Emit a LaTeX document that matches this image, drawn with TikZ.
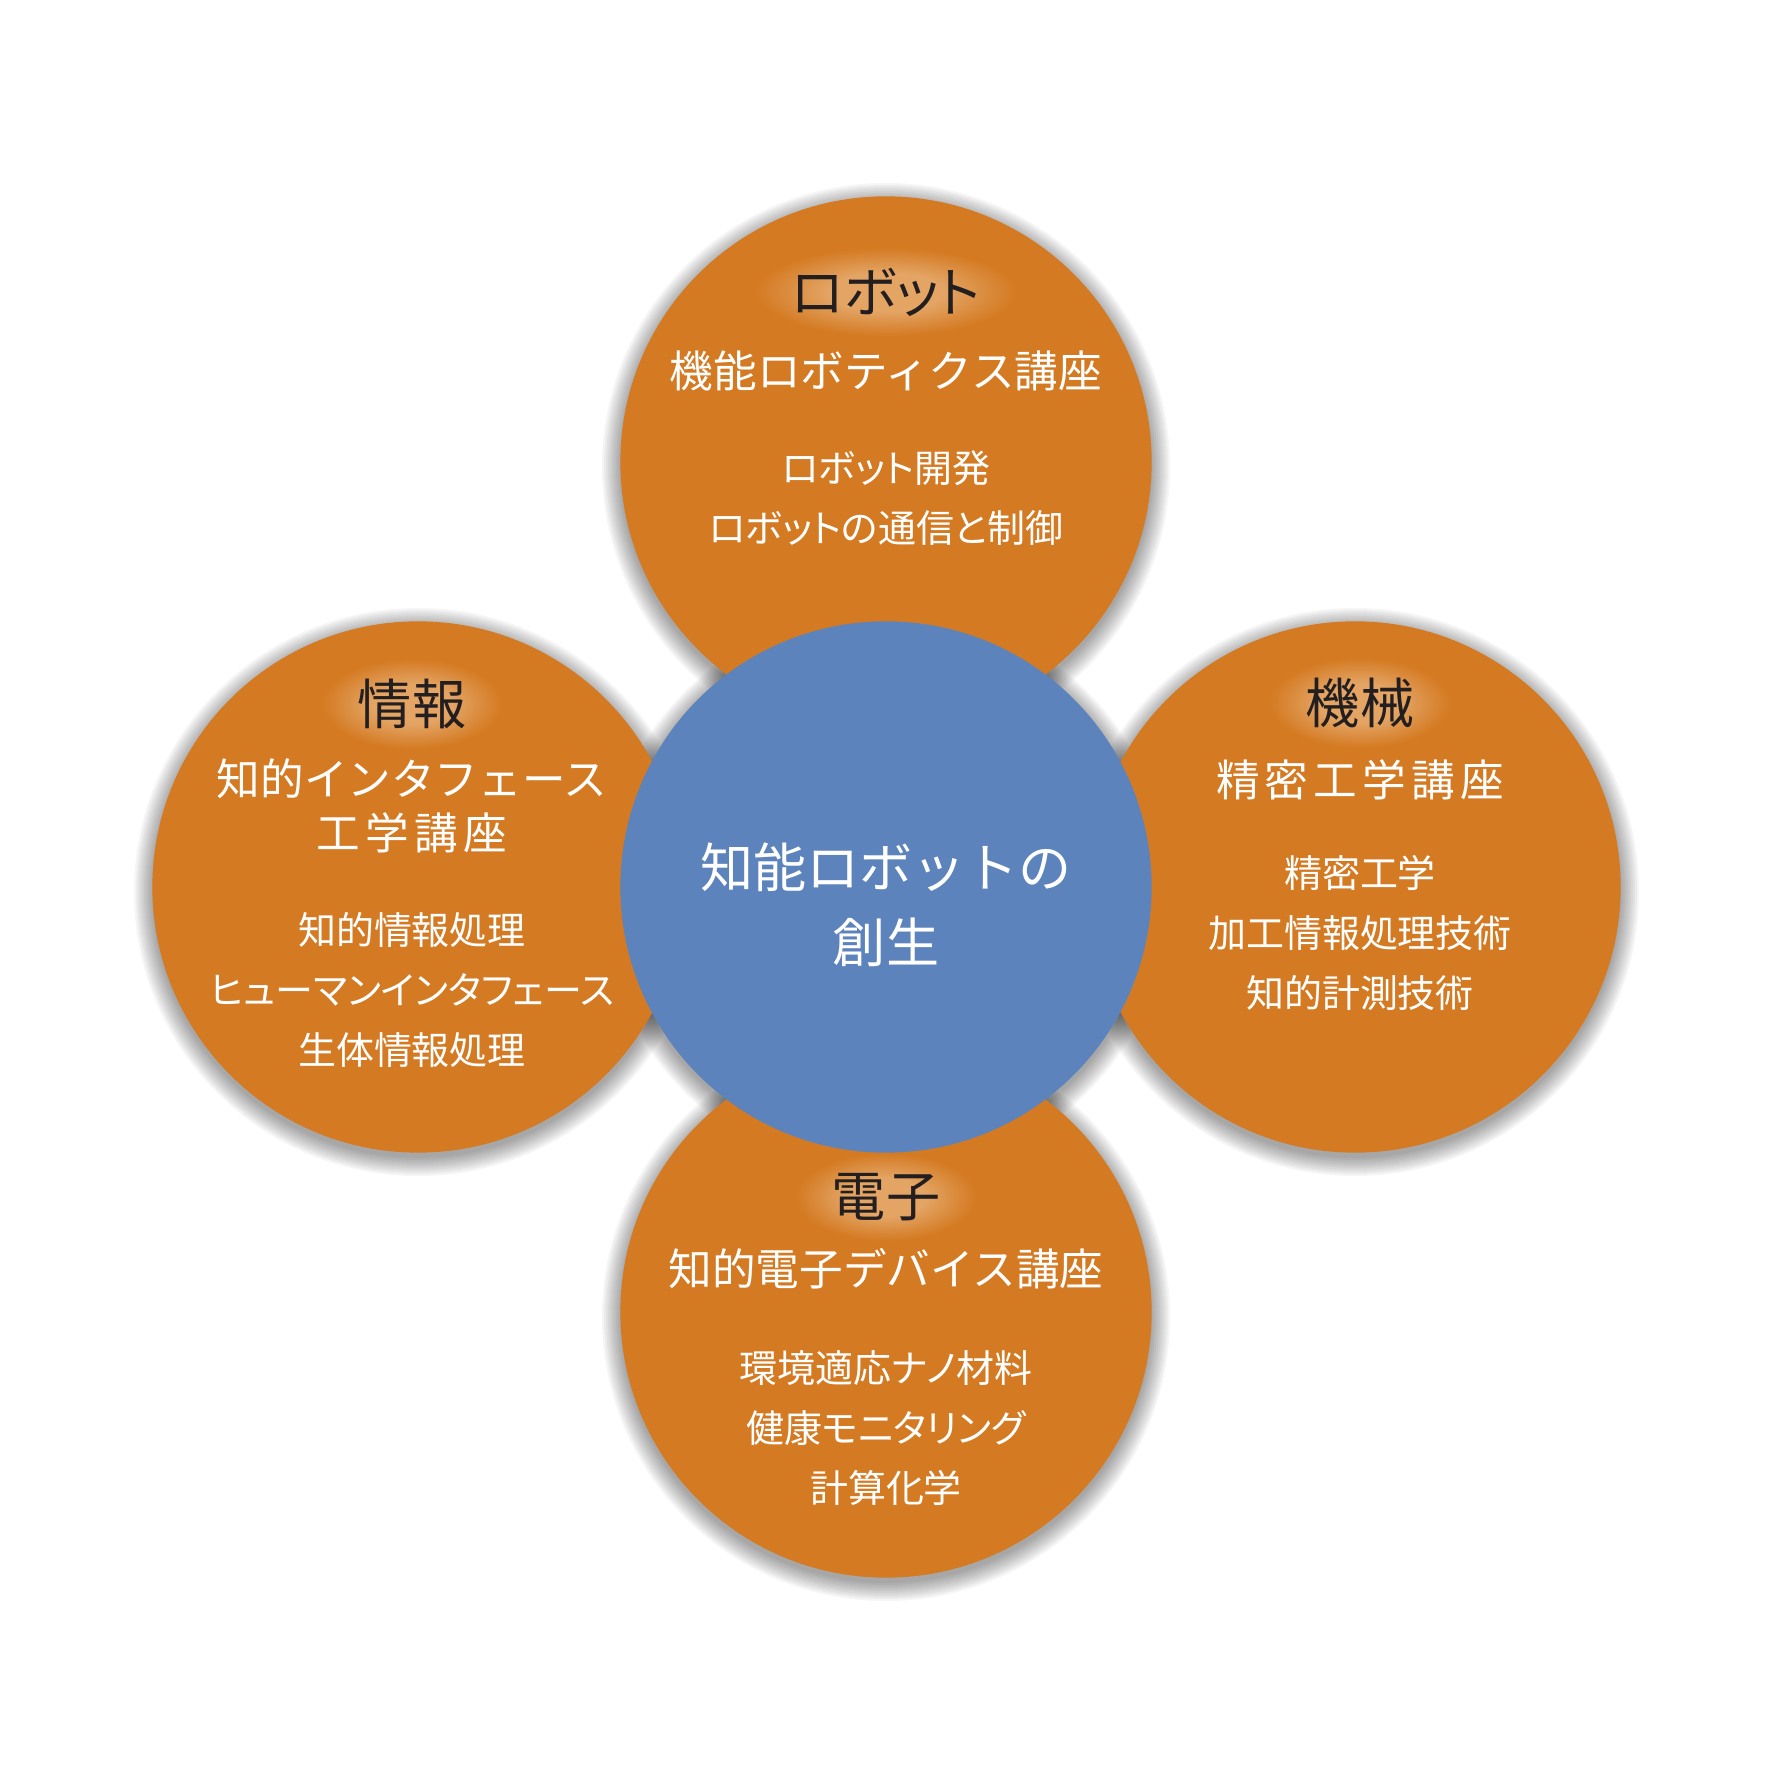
\documentclass[tikz,border=0pt]{standalone}
\usepackage{fontspec}
\newfontfamily\jp{Noto Sans CJK JP}
\newfontfamily\jpp[RawFeature=+palt]{Noto Sans CJK JP}
\newfontfamily\jpw[LetterSpace=12]{Noto Sans CJK JP}
\definecolor{orbfill}{HTML}{D47A22}
\definecolor{corefill}{HTML}{5D83BC}
\definecolor{glowlight}{HTML}{E3A464}
\definecolor{ink}{HTML}{231F20}
\pgfdeclareradialshading{titleglow}{\pgfpointorigin}{color(0bp)=(glowlight); color(11bp)=(glowlight); color(25bp)=(orbfill); color(50bp)=(orbfill)}

\begin{document}
\begin{tikzpicture}
  [x = .01cm, y = .01cm,
   orb/.style = {circle, minimum size = 5.31cm, inner sep = 0, fill = orbfill},
   core/.style = {orb, fill = corefill},
   title/.style = {font = \jpp\fontsize{15.4}{18}\selectfont, text = ink, shade, shading = titleglow, inner xsep = .36cm, inner ysep = .2cm},
   dept/.style = {font = \jp\fontsize{12.4}{15.4}\selectfont, text = white, align = center},
   topics/.style = {font = \jpp\fontsize{10.8}{17.1}\selectfont, text = white, align = center}]
  \fill[white] (0,0) rectangle (1772,1772);
  \useasboundingbox (0,0) rectangle (1772,1772);
  \coordinate (c-robo) at (886,1310);
  \coordinate (c-info) at (418,885);
  \coordinate (c-mech) at (1355,885);
  \coordinate (c-elec) at (886,460);
  \coordinate (c-core) at (886,885);
  \foreach \c in {robo,info,mech,elec,core}{
    \foreach \k in {1,...,10}{
      \fill[black, opacity = .04] ([yshift = -.05cm]c-\c) circle [radius = 264+2*\k];
    }
  }
  \node[orb] (robo) at (c-robo) {};
  \node[orb] (info) at (c-info) {};
  \node[orb] (mech) at (c-mech) {};
  \node[orb] (elec) at (c-elec) {};
  \node[core] (core) at (c-core) {};

  \node[title] (robo-t) at ([yshift = 1.70cm]robo) {ロボット};
  \node[dept] (robo-d) at ([yshift = .91cm]robo) {機能ロボティクス講座};
  \node[topics] (robo-l) at ([yshift = -.36cm]robo) {ロボット開発\\ロボットの通信と制御};

  \node[title] (info-t) at ([xshift = -.06cm, yshift = 1.83cm]info) {情報};
  \node[dept] (info-d) at ([xshift = -.06cm, yshift = .81cm]info) {知的インタフェース\\{\jpw 工学講座}};
  \node[topics] (info-l) at ([xshift = -.06cm, yshift = -1.03cm]info) {知的情報処理\\ヒューマンインタフェース\\生体情報処理};

  \node[title] (mech-t) at ([xshift = .05cm, yshift = 1.84cm]mech) {機械};
  \node[dept] (mech-d) at ([xshift = .05cm, yshift = 1.07cm]mech) {{\jpw 精密工学講座}};
  \node[topics] (mech-l) at ([xshift = .05cm, yshift = -.46cm]mech) {精密工学\\加工情報処理技術\\知的計測技術};

  \node[title] (elec-t) at ([yshift = 1.15cm]elec) {電子};
  \node[dept] (elec-d) at ([yshift = .43cm]elec) {知的電子デバイス講座};
  \node[topics] (elec-l) at ([yshift = -1.16cm]elec) {環境適応ナノ材料\\健康モニタリング\\計算化学};

  \node[font = \jp\fontsize{15.1}{21.3}\selectfont, text = white, align = center] (core-t) at ([yshift = -.175cm]core) {知能ロボットの\\創生};
\end{tikzpicture}
\end{document}
